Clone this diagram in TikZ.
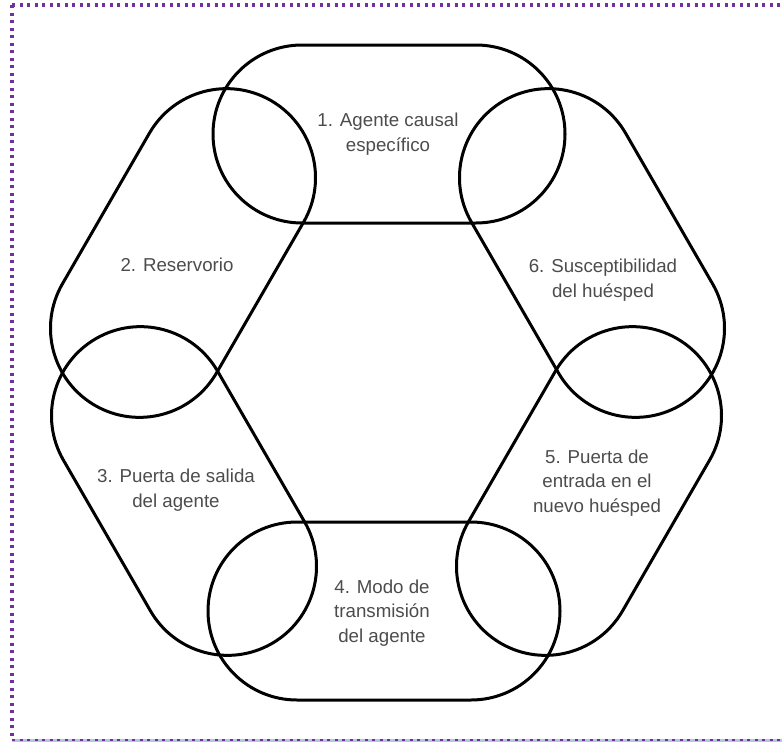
\documentclass[tikz,border=0pt]{standalone}
\usepackage{fontspec}
\setmainfont{Liberation Sans}
\usetikzlibrary{shapes.misc}
\definecolor{framepurple}{RGB}{112,48,160}
\definecolor{framecyan}{RGB}{172,204,218}

\begin{document}
\begin{tikzpicture}[x=1pt,y=-1pt,every node/.style={font=\fontsize{18.7}{24.5}\selectfont,align=center},ring/.style={draw=black,line width=3pt,rounded rectangle,minimum width=352pt,minimum height=178pt,inner sep=0pt},lbl/.style={text=black!70},frame/.style={framepurple,line width=3.2pt,dash pattern=on 3pt off 4.5pt}]
\useasboundingbox (0,0) rectangle (782,742);
% frame
\draw[framecyan,line width=3pt] (12,740.5)--(782,740.5);
\draw[frame,line width=2pt] (12,740)--(782,740);
\draw[frame] (12,5)--(782,5);
\draw[frame] (12,5)--(12,738);
% the six links of the chain
\node[ring] (agente) at (389,134) {};
\node[ring,rotate=60] (reserv) at (183,253) {};
\node[ring,rotate=-60] (salida) at (184,491) {};
\node[ring] (modo) at (384,611) {};
\node[ring,rotate=60] (entrada) at (589,491) {};
\node[ring,rotate=-60] (suscep) at (592,253) {};
% texts
\node[lbl] (agente-t) at (388,134) {1. Agente causal\\específico};
\node[lbl] (reserv-t) at (177,265) {2. Reservorio};
\node[lbl] (salida-t) at (176,490) {3. Puerta de salida\\del agente};
\node[lbl] (modo-t) at (382,613) {4. Modo de\\transmisión\\del agente};
\node[lbl] (entrada-t) at (597,483) {5. Puerta de\\entrada en el\\nuevo huésped};
\node[lbl] (suscep-t) at (603,280) {6. Susceptibilidad\\del huésped};
\end{tikzpicture}
\end{document}
